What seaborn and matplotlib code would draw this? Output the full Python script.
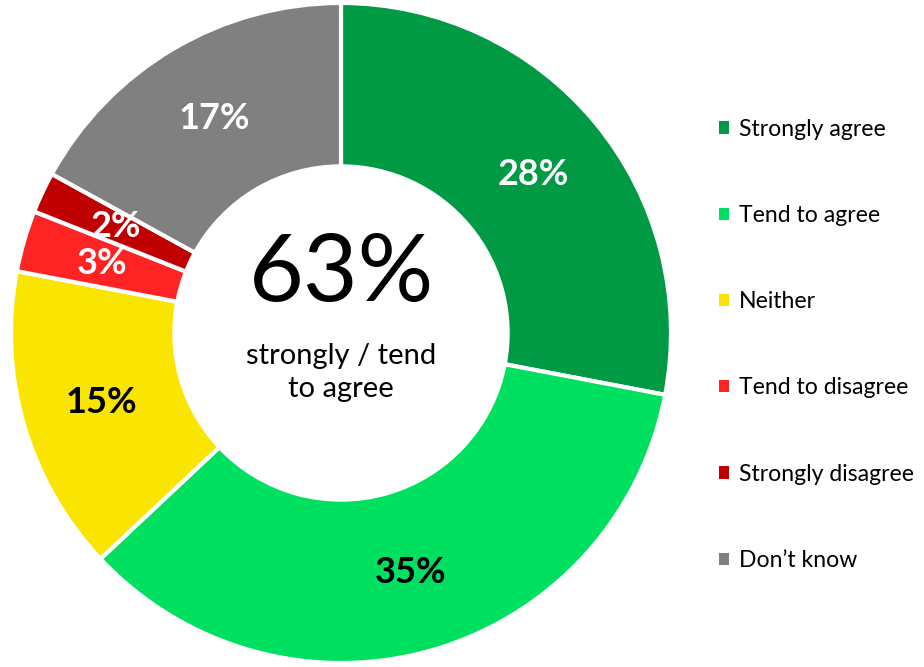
import matplotlib.pyplot as plt
import seaborn as sns
from matplotlib.patches import Patch

categories = ["Strongly agree", "Tend to agree", "Neither", "Tend to disagree",
              "Strongly disagree", "Don\u2019t know"]
shares = [28, 35, 15, 3, 2, 17]
colours = ["#009A44", "#00E060", "#FAE500", "#FF2323", "#C00000", "#808080"]
label_colours = ["white", "black", "black", "white", "white", "white"]

sns.set_theme(style="white")
plt.rcParams["font.family"] = ["Lato", "DejaVu Sans"]
plt.rcParams["text.color"] = "black"

fig = plt.figure(figsize=(9.24, 6.67), dpi=100)
ax = fig.add_axes([10 / 924, 4 / 667, 662 / 924, 660 / 667])

wedges, texts, autotexts = ax.pie(
    shares, colors=colours, startangle=90, counterclock=False,
    autopct="%d%%", pctdistance=0.755,
    wedgeprops=dict(width=0.495, edgecolor="white", linewidth=3),
)
for t, c in zip(autotexts, label_colours):
    t.set_color(c)
    t.set_fontsize(26)
    t.set_fontweight("bold")

agree = shares[0] + shares[1]
ax.text(0, 0.175, f"{agree}%", ha="center", va="center", fontsize=68, color="black")
ax.text(0, -0.12, "strongly / tend\nto agree", ha="center", va="center",
        fontsize=21, linespacing=1.35, color="black")
ax.set_xlim(-1.0, 1.0)
ax.set_ylim(-1.0, 1.0)
ax.set_aspect("equal")

handles = [Patch(facecolor=c, edgecolor="none") for c in colours]
fig.legend(handles, categories, loc="center left", bbox_to_anchor=(0.756, 0.483),
           frameon=False, fontsize=16.6, handlelength=0.44, handleheight=0.44,
           handletextpad=0.4, labelspacing=2.83, labelcolor="black")

fig.savefig("out.png", dpi=100)
